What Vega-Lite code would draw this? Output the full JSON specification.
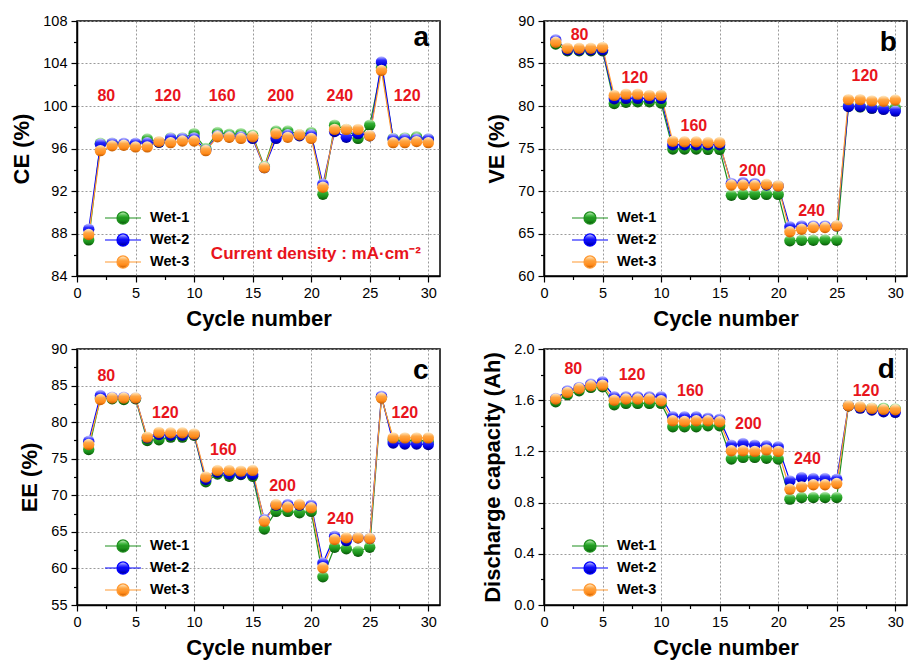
{
"$schema": "https://vega.github.io/schema/vega-lite/v6.json",
"background": "white",
"padding": {"left": 10, "right": 5, "top": 12, "bottom": 5},
"config": {
  "font": "Liberation Sans",
  "view": {"stroke": "black", "strokeWidth": 1.5},
  "axis": {"tickCount": 100, "domainColor": "black", "domainWidth": 1.5, "tickColor": "black", "tickWidth": 1.2, "labelFont": "Liberation Sans", "labelFontSize": 14.5, "labelColor": "black", "labelPadding": 4, "labelOverlap": false, "labelFlush": false, "titleFont": "Liberation Sans", "titleFontSize": 22, "titleFontWeight": "bold", "titleColor": "black", "titlePadding": 9, "gridColor": "#9a9a9a", "gridDash": [2, 2], "gridWidth": 1},
  "legend": {"orient": "none", "legendX": 36, "legendY": 187, "title": null, "padding": 0, "labelFont": "Liberation Sans", "labelFontSize": 14.5, "labelFontWeight": "bold", "labelColor": "black", "labelOffset": 17, "rowPadding": 3, "symbolType": "M-2,0H2M-0.67,0A0.67,0.67,0,1,1,0.67,0A0.67,0.67,0,1,1,-0.67,0Z", "symbolSize": 324, "symbolStrokeWidth": 1.2}
},
"datasets": {
"main": [
{"cycle":1,"series":"Wet-1","CE":87.4,"VE":87.3,"EE":76.25,"DC":1.588},
{"cycle":2,"series":"Wet-1","CE":96.5,"VE":86.5,"EE":83.3,"DC":1.643},
{"cycle":3,"series":"Wet-1","CE":96.5,"VE":86.5,"EE":83.2,"DC":1.674},
{"cycle":4,"series":"Wet-1","CE":96.4,"VE":86.5,"EE":83.1,"DC":1.70},
{"cycle":5,"series":"Wet-1","CE":96.45,"VE":86.5,"EE":83.2,"DC":1.705},
{"cycle":6,"series":"Wet-1","CE":96.9,"VE":80.3,"EE":77.5,"DC":1.565},
{"cycle":7,"series":"Wet-1","CE":96.6,"VE":80.45,"EE":77.6,"DC":1.575},
{"cycle":8,"series":"Wet-1","CE":97.0,"VE":80.5,"EE":77.95,"DC":1.575},
{"cycle":9,"series":"Wet-1","CE":97.0,"VE":80.5,"EE":77.95,"DC":1.575},
{"cycle":10,"series":"Wet-1","CE":97.4,"VE":80.35,"EE":78.2,"DC":1.575},
{"cycle":11,"series":"Wet-1","CE":96.0,"VE":74.95,"EE":71.85,"DC":1.392},
{"cycle":12,"series":"Wet-1","CE":97.5,"VE":74.95,"EE":72.9,"DC":1.392},
{"cycle":13,"series":"Wet-1","CE":97.35,"VE":74.95,"EE":72.6,"DC":1.392},
{"cycle":14,"series":"Wet-1","CE":97.4,"VE":74.9,"EE":72.85,"DC":1.40},
{"cycle":15,"series":"Wet-1","CE":97.25,"VE":74.9,"EE":72.6,"DC":1.40},
{"cycle":16,"series":"Wet-1","CE":94.3,"VE":69.5,"EE":65.4,"DC":1.14},
{"cycle":17,"series":"Wet-1","CE":97.65,"VE":69.6,"EE":67.8,"DC":1.153},
{"cycle":18,"series":"Wet-1","CE":97.65,"VE":69.6,"EE":67.8,"DC":1.153},
{"cycle":19,"series":"Wet-1","CE":97.3,"VE":69.6,"EE":67.6,"DC":1.147},
{"cycle":20,"series":"Wet-1","CE":97.5,"VE":69.6,"EE":67.8,"DC":1.14},
{"cycle":21,"series":"Wet-1","CE":91.7,"VE":64.15,"EE":58.85,"DC":0.827},
{"cycle":22,"series":"Wet-1","CE":98.2,"VE":64.2,"EE":62.9,"DC":0.84},
{"cycle":23,"series":"Wet-1","CE":97.8,"VE":64.2,"EE":62.7,"DC":0.84},
{"cycle":24,"series":"Wet-1","CE":96.95,"VE":64.25,"EE":62.35,"DC":0.84},
{"cycle":25,"series":"Wet-1","CE":98.2,"VE":64.2,"EE":62.9,"DC":0.84},
{"cycle":26,"series":"Wet-1","CE":103.6,"VE":80.0,"EE":83.4,"DC":1.557},
{"cycle":27,"series":"Wet-1","CE":96.95,"VE":79.9,"EE":77.6,"DC":1.544},
{"cycle":28,"series":"Wet-1","CE":97.0,"VE":79.75,"EE":77.4,"DC":1.538},
{"cycle":29,"series":"Wet-1","CE":97.1,"VE":79.75,"EE":77.6,"DC":1.538},
{"cycle":30,"series":"Wet-1","CE":96.9,"VE":79.75,"EE":77.3,"DC":1.531},
{"cycle":1,"series":"Wet-2","CE":88.4,"VE":87.8,"EE":77.4,"DC":1.614},
{"cycle":2,"series":"Wet-2","CE":96.4,"VE":86.6,"EE":83.65,"DC":1.674},
{"cycle":3,"series":"Wet-2","CE":96.5,"VE":86.6,"EE":83.4,"DC":1.70},
{"cycle":4,"series":"Wet-2","CE":96.5,"VE":86.6,"EE":83.4,"DC":1.726},
{"cycle":5,"series":"Wet-2","CE":96.5,"VE":86.6,"EE":83.3,"DC":1.744},
{"cycle":6,"series":"Wet-2","CE":96.55,"VE":80.85,"EE":77.85,"DC":1.627},
{"cycle":7,"series":"Wet-2","CE":96.6,"VE":80.9,"EE":78.3,"DC":1.627},
{"cycle":8,"series":"Wet-2","CE":96.95,"VE":80.9,"EE":78.2,"DC":1.627},
{"cycle":9,"series":"Wet-2","CE":96.95,"VE":80.9,"EE":78.2,"DC":1.627},
{"cycle":10,"series":"Wet-2","CE":97.0,"VE":80.9,"EE":78.3,"DC":1.627},
{"cycle":11,"series":"Wet-2","CE":95.85,"VE":75.45,"EE":72.15,"DC":1.471},
{"cycle":12,"series":"Wet-2","CE":97.2,"VE":75.45,"EE":73.15,"DC":1.471},
{"cycle":13,"series":"Wet-2","CE":97.1,"VE":75.45,"EE":72.9,"DC":1.471},
{"cycle":14,"series":"Wet-2","CE":97.1,"VE":75.45,"EE":72.9,"DC":1.46},
{"cycle":15,"series":"Wet-2","CE":96.95,"VE":75.45,"EE":72.85,"DC":1.452},
{"cycle":16,"series":"Wet-2","CE":94.2,"VE":70.9,"EE":66.7,"DC":1.249},
{"cycle":17,"series":"Wet-2","CE":96.95,"VE":71.0,"EE":68.65,"DC":1.262},
{"cycle":18,"series":"Wet-2","CE":97.3,"VE":70.9,"EE":68.75,"DC":1.249},
{"cycle":19,"series":"Wet-2","CE":97.2,"VE":70.7,"EE":68.65,"DC":1.244},
{"cycle":20,"series":"Wet-2","CE":97.3,"VE":70.6,"EE":68.65,"DC":1.236},
{"cycle":21,"series":"Wet-2","CE":92.65,"VE":65.8,"EE":60.75,"DC":0.97},
{"cycle":22,"series":"Wet-2","CE":97.6,"VE":65.9,"EE":64.4,"DC":0.996},
{"cycle":23,"series":"Wet-2","CE":97.05,"VE":65.9,"EE":63.8,"DC":0.988},
{"cycle":24,"series":"Wet-2","CE":97.4,"VE":65.9,"EE":64.2,"DC":0.988},
{"cycle":25,"series":"Wet-2","CE":97.2,"VE":65.9,"EE":64.1,"DC":0.983},
{"cycle":26,"series":"Wet-2","CE":104.15,"VE":79.95,"EE":83.55,"DC":1.557},
{"cycle":27,"series":"Wet-2","CE":96.9,"VE":79.95,"EE":77.15,"DC":1.538},
{"cycle":28,"series":"Wet-2","CE":96.9,"VE":79.75,"EE":77.0,"DC":1.523},
{"cycle":29,"series":"Wet-2","CE":96.9,"VE":79.6,"EE":77.0,"DC":1.51},
{"cycle":30,"series":"Wet-2","CE":96.9,"VE":79.4,"EE":76.95,"DC":1.505},
{"cycle":1,"series":"Wet-3","CE":87.9,"VE":87.5,"EE":76.95,"DC":1.609},
{"cycle":2,"series":"Wet-3","CE":95.8,"VE":86.8,"EE":83.1,"DC":1.661},
{"cycle":3,"series":"Wet-3","CE":96.25,"VE":86.8,"EE":83.3,"DC":1.692},
{"cycle":4,"series":"Wet-3","CE":96.3,"VE":86.8,"EE":83.3,"DC":1.713},
{"cycle":5,"series":"Wet-3","CE":96.15,"VE":86.9,"EE":83.3,"DC":1.718},
{"cycle":6,"series":"Wet-3","CE":96.15,"VE":81.25,"EE":77.95,"DC":1.60},
{"cycle":7,"series":"Wet-3","CE":96.65,"VE":81.4,"EE":78.6,"DC":1.609},
{"cycle":8,"series":"Wet-3","CE":96.55,"VE":81.4,"EE":78.55,"DC":1.609},
{"cycle":9,"series":"Wet-3","CE":96.7,"VE":81.25,"EE":78.55,"DC":1.609},
{"cycle":10,"series":"Wet-3","CE":96.7,"VE":81.25,"EE":78.4,"DC":1.596},
{"cycle":11,"series":"Wet-3","CE":95.8,"VE":75.85,"EE":72.5,"DC":1.44},
{"cycle":12,"series":"Wet-3","CE":97.1,"VE":75.8,"EE":73.4,"DC":1.434},
{"cycle":13,"series":"Wet-3","CE":97.05,"VE":75.8,"EE":73.4,"DC":1.44},
{"cycle":14,"series":"Wet-3","CE":96.95,"VE":75.7,"EE":73.3,"DC":1.44},
{"cycle":15,"series":"Wet-3","CE":97.1,"VE":75.7,"EE":73.4,"DC":1.432},
{"cycle":16,"series":"Wet-3","CE":94.2,"VE":70.7,"EE":66.45,"DC":1.205},
{"cycle":17,"series":"Wet-3","CE":97.4,"VE":70.7,"EE":68.75,"DC":1.205},
{"cycle":18,"series":"Wet-3","CE":97.05,"VE":70.65,"EE":68.4,"DC":1.20},
{"cycle":19,"series":"Wet-3","CE":97.3,"VE":70.8,"EE":68.75,"DC":1.212},
{"cycle":20,"series":"Wet-3","CE":96.95,"VE":70.6,"EE":68.3,"DC":1.20},
{"cycle":21,"series":"Wet-3","CE":92.35,"VE":65.2,"EE":60.1,"DC":0.905},
{"cycle":22,"series":"Wet-3","CE":97.8,"VE":65.5,"EE":63.95,"DC":0.923},
{"cycle":23,"series":"Wet-3","CE":97.8,"VE":65.7,"EE":64.2,"DC":0.939},
{"cycle":24,"series":"Wet-3","CE":97.8,"VE":65.7,"EE":64.2,"DC":0.939},
{"cycle":25,"series":"Wet-3","CE":97.2,"VE":65.9,"EE":64.1,"DC":0.949},
{"cycle":26,"series":"Wet-3","CE":103.35,"VE":80.75,"EE":83.3,"DC":1.557},
{"cycle":27,"series":"Wet-3","CE":96.55,"VE":80.75,"EE":77.85,"DC":1.549},
{"cycle":28,"series":"Wet-3","CE":96.55,"VE":80.6,"EE":77.85,"DC":1.536},
{"cycle":29,"series":"Wet-3","CE":96.65,"VE":80.55,"EE":77.85,"DC":1.528},
{"cycle":30,"series":"Wet-3","CE":96.55,"VE":80.7,"EE":77.85,"DC":1.525}
]
},
"columns": 2,
"spacing": {"row": 73, "column": 104},
"bounds": "flush",
"resolve": {"scale": {"stroke": "independent"}, "legend": {"stroke": "independent"}},
"concat": [
{
  "width": 363, "height": 255,
  "data": {"name": "main"},
  "layer": [
    {"mark": {"type": "line", "strokeWidth": 1.2},
     "encoding": {
       "x": {"field": "cycle", "type": "quantitative", "scale": {"domain": [0, 31], "nice": false, "zero": false},
             "axis": {"title": "Cycle number", "format": "d", "values": [0,2.5,5,7.5,10,12.5,15,17.5,20,22.5,25,27.5,30], "labelExpr": "datum.value % 5 === 0 ? datum.label : ''", "tickSize": {"condition": {"test": "datum.value % 5 === 0", "value": 6}, "value": 3.5}, "gridOpacity": {"condition": {"test": "datum.value % 5 === 0", "value": 1}, "value": 0}}},
       "y": {"field": "CE", "type": "quantitative", "scale": {"domain": [84, 108], "nice": false, "zero": false},
             "axis": {"title": "CE (%)", "format": "d", "values": [84,86,88,90,92,94,96,98,100,102,104,106,108], "labelExpr": "datum.value % 4 === 0 ? datum.label : ''", "tickSize": {"condition": {"test": "datum.value % 4 === 0", "value": 6}, "value": 3.5}, "gridOpacity": {"condition": {"test": "datum.value % 4 === 0", "value": 1}, "value": 0}}},
       "stroke": {"field": "series", "type": "nominal", "scale": {"domain": ["Wet-1","Wet-2","Wet-3"], "range": ["#1f8f1f","#0000ff","#ff9933"]},
         "legend": {"encode": {"symbols": {"update": {"fill": {"signal": "datum.value === 'Wet-1' ? {gradient:'linear',x1:0,y1:0,x2:0,y2:1,stops:[{offset:0,color:'#c8f0c0'},{offset:0.35,color:'#34b034'},{offset:0.75,color:'#168a16'},{offset:1,color:'#0a500a'}]} : datum.value === 'Wet-2' ? {gradient:'linear',x1:0,y1:0,x2:0,y2:1,stops:[{offset:0,color:'#d0d0ff'},{offset:0.35,color:'#2a2aff'},{offset:0.75,color:'#0000dd'},{offset:1,color:'#000080'}]} : {gradient:'linear',x1:0,y1:0,x2:0,y2:1,stops:[{offset:0,color:'#fff0d0'},{offset:0.35,color:'#ffa644'},{offset:0.75,color:'#ff8a1a'},{offset:1,color:'#c05a00'}]}"}}}}}}
     }},
    {"transform": [{"filter": "datum.series === 'Wet-1'"}],
     "mark": {"type": "point", "filled": true, "size": 130, "opacity": 1, "strokeWidth": 0, "fill": {"gradient": "linear", "x1": 0, "y1": 0, "x2": 0, "y2": 1, "stops": [{"offset": 0, "color": "#c8f0c0"}, {"offset": 0.35, "color": "#34b034"}, {"offset": 0.75, "color": "#168a16"}, {"offset": 1, "color": "#0a500a"}]}},
     "encoding": {"x": {"field": "cycle", "type": "quantitative"}, "y": {"field": "CE", "type": "quantitative"}}},
    {"transform": [{"filter": "datum.series === 'Wet-2'"}],
     "mark": {"type": "point", "filled": true, "size": 130, "opacity": 1, "strokeWidth": 0, "fill": {"gradient": "linear", "x1": 0, "y1": 0, "x2": 0, "y2": 1, "stops": [{"offset": 0, "color": "#d0d0ff"}, {"offset": 0.35, "color": "#2a2aff"}, {"offset": 0.75, "color": "#0000dd"}, {"offset": 1, "color": "#000080"}]}},
     "encoding": {"x": {"field": "cycle", "type": "quantitative"}, "y": {"field": "CE", "type": "quantitative"}}},
    {"transform": [{"filter": "datum.series === 'Wet-3'"}],
     "mark": {"type": "point", "filled": true, "size": 130, "opacity": 1, "strokeWidth": 0, "fill": {"gradient": "linear", "x1": 0, "y1": 0, "x2": 0, "y2": 1, "stops": [{"offset": 0, "color": "#fff0d0"}, {"offset": 0.35, "color": "#ffa644"}, {"offset": 0.75, "color": "#ff8a1a"}, {"offset": 1, "color": "#c05a00"}]}},
     "encoding": {"x": {"field": "cycle", "type": "quantitative"}, "y": {"field": "CE", "type": "quantitative"}}},
    {"data": {"values": [{"cycle":2.5,"CE":100.9,"t":"80"},{"cycle":7.75,"CE":100.9,"t":"120"},{"cycle":12.4,"CE":100.9,"t":"160"},{"cycle":17.4,"CE":100.9,"t":"200"},{"cycle":22.45,"CE":100.9,"t":"240"},{"cycle":28.2,"CE":100.9,"t":"120"}]},
     "mark": {"type": "text", "color": "#e8141c", "fontSize": 16, "fontWeight": "bold"},
     "encoding": {"x": {"field": "cycle", "type": "quantitative"}, "y": {"field": "CE", "type": "quantitative"}, "text": {"field": "t"}}},
    {"data": {"values": [{"cycle":20.4,"CE":86.1,"t":"Current density : mA·cm⁻²"}]},
     "mark": {"type": "text", "color": "#e8141c", "fontSize": 17, "fontWeight": "bold"},
     "encoding": {"x": {"field": "cycle", "type": "quantitative"}, "y": {"field": "CE", "type": "quantitative"}, "text": {"field": "t"}}},
    {"data": {"values": [{"cycle":29.4,"CE":106.4,"t":"a"}]},
     "mark": {"type": "text", "color": "black", "fontSize": 28, "fontWeight": "bold"},
     "encoding": {"x": {"field": "cycle", "type": "quantitative"}, "y": {"field": "CE", "type": "quantitative"}, "text": {"field": "t"}}}
  ]
},
{
  "width": 363, "height": 255,
  "data": {"name": "main"},
  "layer": [
    {"mark": {"type": "line", "strokeWidth": 1.2},
     "encoding": {
       "x": {"field": "cycle", "type": "quantitative", "scale": {"domain": [0, 31], "nice": false, "zero": false},
             "axis": {"title": "Cycle number", "format": "d", "values": [0,2.5,5,7.5,10,12.5,15,17.5,20,22.5,25,27.5,30], "labelExpr": "datum.value % 5 === 0 ? datum.label : ''", "tickSize": {"condition": {"test": "datum.value % 5 === 0", "value": 6}, "value": 3.5}, "gridOpacity": {"condition": {"test": "datum.value % 5 === 0", "value": 1}, "value": 0}}},
       "y": {"field": "VE", "type": "quantitative", "scale": {"domain": [60, 90], "nice": false, "zero": false},
             "axis": {"title": "VE (%)", "format": "d", "values": [60,62.5,65,67.5,70,72.5,75,77.5,80,82.5,85,87.5,90], "labelExpr": "datum.value % 5 === 0 ? datum.label : ''", "tickSize": {"condition": {"test": "datum.value % 5 === 0", "value": 6}, "value": 3.5}, "gridOpacity": {"condition": {"test": "datum.value % 5 === 0", "value": 1}, "value": 0}}},
       "stroke": {"field": "series", "type": "nominal", "scale": {"domain": ["Wet-1","Wet-2","Wet-3"], "range": ["#1f8f1f","#0000ff","#ff9933"]},
         "legend": {"encode": {"symbols": {"update": {"fill": {"signal": "datum.value === 'Wet-1' ? {gradient:'linear',x1:0,y1:0,x2:0,y2:1,stops:[{offset:0,color:'#c8f0c0'},{offset:0.35,color:'#34b034'},{offset:0.75,color:'#168a16'},{offset:1,color:'#0a500a'}]} : datum.value === 'Wet-2' ? {gradient:'linear',x1:0,y1:0,x2:0,y2:1,stops:[{offset:0,color:'#d0d0ff'},{offset:0.35,color:'#2a2aff'},{offset:0.75,color:'#0000dd'},{offset:1,color:'#000080'}]} : {gradient:'linear',x1:0,y1:0,x2:0,y2:1,stops:[{offset:0,color:'#fff0d0'},{offset:0.35,color:'#ffa644'},{offset:0.75,color:'#ff8a1a'},{offset:1,color:'#c05a00'}]}"}}}}}}
     }},
    {"transform": [{"filter": "datum.series === 'Wet-1'"}],
     "mark": {"type": "point", "filled": true, "size": 130, "opacity": 1, "strokeWidth": 0, "fill": {"gradient": "linear", "x1": 0, "y1": 0, "x2": 0, "y2": 1, "stops": [{"offset": 0, "color": "#c8f0c0"}, {"offset": 0.35, "color": "#34b034"}, {"offset": 0.75, "color": "#168a16"}, {"offset": 1, "color": "#0a500a"}]}},
     "encoding": {"x": {"field": "cycle", "type": "quantitative"}, "y": {"field": "VE", "type": "quantitative"}}},
    {"transform": [{"filter": "datum.series === 'Wet-2'"}],
     "mark": {"type": "point", "filled": true, "size": 130, "opacity": 1, "strokeWidth": 0, "fill": {"gradient": "linear", "x1": 0, "y1": 0, "x2": 0, "y2": 1, "stops": [{"offset": 0, "color": "#d0d0ff"}, {"offset": 0.35, "color": "#2a2aff"}, {"offset": 0.75, "color": "#0000dd"}, {"offset": 1, "color": "#000080"}]}},
     "encoding": {"x": {"field": "cycle", "type": "quantitative"}, "y": {"field": "VE", "type": "quantitative"}}},
    {"transform": [{"filter": "datum.series === 'Wet-3'"}],
     "mark": {"type": "point", "filled": true, "size": 130, "opacity": 1, "strokeWidth": 0, "fill": {"gradient": "linear", "x1": 0, "y1": 0, "x2": 0, "y2": 1, "stops": [{"offset": 0, "color": "#fff0d0"}, {"offset": 0.35, "color": "#ffa644"}, {"offset": 0.75, "color": "#ff8a1a"}, {"offset": 1, "color": "#c05a00"}]}},
     "encoding": {"x": {"field": "cycle", "type": "quantitative"}, "y": {"field": "VE", "type": "quantitative"}}},
    {"data": {"values": [{"cycle":3.04,"VE":88.3,"t":"80"},{"cycle":7.75,"VE":83.3,"t":"120"},{"cycle":12.8,"VE":77.6,"t":"160"},{"cycle":17.8,"VE":72.4,"t":"200"},{"cycle":22.85,"VE":67.6,"t":"240"},{"cycle":27.4,"VE":83.5,"t":"120"}]},
     "mark": {"type": "text", "color": "#e8141c", "fontSize": 16, "fontWeight": "bold"},
     "encoding": {"x": {"field": "cycle", "type": "quantitative"}, "y": {"field": "VE", "type": "quantitative"}, "text": {"field": "t"}}},
    {"data": {"values": [{"cycle":29.4,"VE":87.4,"t":"b"}]},
     "mark": {"type": "text", "color": "black", "fontSize": 28, "fontWeight": "bold"},
     "encoding": {"x": {"field": "cycle", "type": "quantitative"}, "y": {"field": "VE", "type": "quantitative"}, "text": {"field": "t"}}}
  ]
},
{
  "width": 363, "height": 256,
  "data": {"name": "main"},
  "layer": [
    {"mark": {"type": "line", "strokeWidth": 1.2},
     "encoding": {
       "x": {"field": "cycle", "type": "quantitative", "scale": {"domain": [0, 31], "nice": false, "zero": false},
             "axis": {"title": "Cycle number", "format": "d", "values": [0,2.5,5,7.5,10,12.5,15,17.5,20,22.5,25,27.5,30], "labelExpr": "datum.value % 5 === 0 ? datum.label : ''", "tickSize": {"condition": {"test": "datum.value % 5 === 0", "value": 6}, "value": 3.5}, "gridOpacity": {"condition": {"test": "datum.value % 5 === 0", "value": 1}, "value": 0}}},
       "y": {"field": "EE", "type": "quantitative", "scale": {"domain": [55, 90], "nice": false, "zero": false},
             "axis": {"title": "EE (%)", "format": "d", "values": [55,57.5,60,62.5,65,67.5,70,72.5,75,77.5,80,82.5,85,87.5,90], "labelExpr": "datum.value % 5 === 0 ? datum.label : ''", "tickSize": {"condition": {"test": "datum.value % 5 === 0", "value": 6}, "value": 3.5}, "gridOpacity": {"condition": {"test": "datum.value % 5 === 0", "value": 1}, "value": 0}}},
       "stroke": {"field": "series", "type": "nominal", "scale": {"domain": ["Wet-1","Wet-2","Wet-3"], "range": ["#1f8f1f","#0000ff","#ff9933"]},
         "legend": {"encode": {"symbols": {"update": {"fill": {"signal": "datum.value === 'Wet-1' ? {gradient:'linear',x1:0,y1:0,x2:0,y2:1,stops:[{offset:0,color:'#c8f0c0'},{offset:0.35,color:'#34b034'},{offset:0.75,color:'#168a16'},{offset:1,color:'#0a500a'}]} : datum.value === 'Wet-2' ? {gradient:'linear',x1:0,y1:0,x2:0,y2:1,stops:[{offset:0,color:'#d0d0ff'},{offset:0.35,color:'#2a2aff'},{offset:0.75,color:'#0000dd'},{offset:1,color:'#000080'}]} : {gradient:'linear',x1:0,y1:0,x2:0,y2:1,stops:[{offset:0,color:'#fff0d0'},{offset:0.35,color:'#ffa644'},{offset:0.75,color:'#ff8a1a'},{offset:1,color:'#c05a00'}]}"}}}}}}
     }},
    {"transform": [{"filter": "datum.series === 'Wet-1'"}],
     "mark": {"type": "point", "filled": true, "size": 130, "opacity": 1, "strokeWidth": 0, "fill": {"gradient": "linear", "x1": 0, "y1": 0, "x2": 0, "y2": 1, "stops": [{"offset": 0, "color": "#c8f0c0"}, {"offset": 0.35, "color": "#34b034"}, {"offset": 0.75, "color": "#168a16"}, {"offset": 1, "color": "#0a500a"}]}},
     "encoding": {"x": {"field": "cycle", "type": "quantitative"}, "y": {"field": "EE", "type": "quantitative"}}},
    {"transform": [{"filter": "datum.series === 'Wet-2'"}],
     "mark": {"type": "point", "filled": true, "size": 130, "opacity": 1, "strokeWidth": 0, "fill": {"gradient": "linear", "x1": 0, "y1": 0, "x2": 0, "y2": 1, "stops": [{"offset": 0, "color": "#d0d0ff"}, {"offset": 0.35, "color": "#2a2aff"}, {"offset": 0.75, "color": "#0000dd"}, {"offset": 1, "color": "#000080"}]}},
     "encoding": {"x": {"field": "cycle", "type": "quantitative"}, "y": {"field": "EE", "type": "quantitative"}}},
    {"transform": [{"filter": "datum.series === 'Wet-3'"}],
     "mark": {"type": "point", "filled": true, "size": 130, "opacity": 1, "strokeWidth": 0, "fill": {"gradient": "linear", "x1": 0, "y1": 0, "x2": 0, "y2": 1, "stops": [{"offset": 0, "color": "#fff0d0"}, {"offset": 0.35, "color": "#ffa644"}, {"offset": 0.75, "color": "#ff8a1a"}, {"offset": 1, "color": "#c05a00"}]}},
     "encoding": {"x": {"field": "cycle", "type": "quantitative"}, "y": {"field": "EE", "type": "quantitative"}}},
    {"data": {"values": [{"cycle":2.5,"EE":86.3,"t":"80"},{"cycle":7.55,"EE":81.3,"t":"120"},{"cycle":12.5,"EE":76.25,"t":"160"},{"cycle":17.55,"EE":71.25,"t":"200"},{"cycle":22.5,"EE":66.8,"t":"240"},{"cycle":28.0,"EE":81.3,"t":"120"}]},
     "mark": {"type": "text", "color": "#e8141c", "fontSize": 16, "fontWeight": "bold"},
     "encoding": {"x": {"field": "cycle", "type": "quantitative"}, "y": {"field": "EE", "type": "quantitative"}, "text": {"field": "t"}}},
    {"data": {"values": [{"cycle":29.35,"EE":86.96,"t":"c"}]},
     "mark": {"type": "text", "color": "black", "fontSize": 28, "fontWeight": "bold"},
     "encoding": {"x": {"field": "cycle", "type": "quantitative"}, "y": {"field": "EE", "type": "quantitative"}, "text": {"field": "t"}}}
  ]
},
{
  "width": 363, "height": 256,
  "data": {"name": "main"},
  "layer": [
    {"mark": {"type": "line", "strokeWidth": 1.2},
     "encoding": {
       "x": {"field": "cycle", "type": "quantitative", "scale": {"domain": [0, 31], "nice": false, "zero": false},
             "axis": {"title": "Cycle number", "format": "d", "values": [0,2.5,5,7.5,10,12.5,15,17.5,20,22.5,25,27.5,30], "labelExpr": "datum.value % 5 === 0 ? datum.label : ''", "tickSize": {"condition": {"test": "datum.value % 5 === 0", "value": 6}, "value": 3.5}, "gridOpacity": {"condition": {"test": "datum.value % 5 === 0", "value": 1}, "value": 0}}},
       "y": {"field": "DC", "type": "quantitative", "scale": {"domain": [0, 2], "nice": false, "zero": false},
             "axis": {"title": "Discharge capacity (Ah)", "format": ".1f", "values": [0,0.2,0.4,0.6,0.8,1.0,1.2,1.4,1.6,1.8,2.0], "labelExpr": "round(datum.value*10) % 4 === 0 ? datum.label : ''", "tickSize": {"condition": {"test": "round(datum.value*10) % 4 === 0", "value": 6}, "value": 3.5}, "gridOpacity": {"condition": {"test": "round(datum.value*10) % 4 === 0", "value": 1}, "value": 0}}},
       "stroke": {"field": "series", "type": "nominal", "scale": {"domain": ["Wet-1","Wet-2","Wet-3"], "range": ["#1f8f1f","#0000ff","#ff9933"]},
         "legend": {"encode": {"symbols": {"update": {"fill": {"signal": "datum.value === 'Wet-1' ? {gradient:'linear',x1:0,y1:0,x2:0,y2:1,stops:[{offset:0,color:'#c8f0c0'},{offset:0.35,color:'#34b034'},{offset:0.75,color:'#168a16'},{offset:1,color:'#0a500a'}]} : datum.value === 'Wet-2' ? {gradient:'linear',x1:0,y1:0,x2:0,y2:1,stops:[{offset:0,color:'#d0d0ff'},{offset:0.35,color:'#2a2aff'},{offset:0.75,color:'#0000dd'},{offset:1,color:'#000080'}]} : {gradient:'linear',x1:0,y1:0,x2:0,y2:1,stops:[{offset:0,color:'#fff0d0'},{offset:0.35,color:'#ffa644'},{offset:0.75,color:'#ff8a1a'},{offset:1,color:'#c05a00'}]}"}}}}}}
     }},
    {"transform": [{"filter": "datum.series === 'Wet-1'"}],
     "mark": {"type": "point", "filled": true, "size": 130, "opacity": 1, "strokeWidth": 0, "fill": {"gradient": "linear", "x1": 0, "y1": 0, "x2": 0, "y2": 1, "stops": [{"offset": 0, "color": "#c8f0c0"}, {"offset": 0.35, "color": "#34b034"}, {"offset": 0.75, "color": "#168a16"}, {"offset": 1, "color": "#0a500a"}]}},
     "encoding": {"x": {"field": "cycle", "type": "quantitative"}, "y": {"field": "DC", "type": "quantitative"}}},
    {"transform": [{"filter": "datum.series === 'Wet-2'"}],
     "mark": {"type": "point", "filled": true, "size": 130, "opacity": 1, "strokeWidth": 0, "fill": {"gradient": "linear", "x1": 0, "y1": 0, "x2": 0, "y2": 1, "stops": [{"offset": 0, "color": "#d0d0ff"}, {"offset": 0.35, "color": "#2a2aff"}, {"offset": 0.75, "color": "#0000dd"}, {"offset": 1, "color": "#000080"}]}},
     "encoding": {"x": {"field": "cycle", "type": "quantitative"}, "y": {"field": "DC", "type": "quantitative"}}},
    {"transform": [{"filter": "datum.series === 'Wet-3'"}],
     "mark": {"type": "point", "filled": true, "size": 130, "opacity": 1, "strokeWidth": 0, "fill": {"gradient": "linear", "x1": 0, "y1": 0, "x2": 0, "y2": 1, "stops": [{"offset": 0, "color": "#fff0d0"}, {"offset": 0.35, "color": "#ffa644"}, {"offset": 0.75, "color": "#ff8a1a"}, {"offset": 1, "color": "#c05a00"}]}},
     "encoding": {"x": {"field": "cycle", "type": "quantitative"}, "y": {"field": "DC", "type": "quantitative"}}},
    {"data": {"values": [{"cycle":2.5,"DC":1.844,"t":"80"},{"cycle":7.52,"DC":1.80,"t":"120"},{"cycle":12.5,"DC":1.674,"t":"160"},{"cycle":17.45,"DC":1.413,"t":"200"},{"cycle":22.5,"DC":1.144,"t":"240"},{"cycle":27.5,"DC":1.674,"t":"120"}]},
     "mark": {"type": "text", "color": "#e8141c", "fontSize": 16, "fontWeight": "bold"},
     "encoding": {"x": {"field": "cycle", "type": "quantitative"}, "y": {"field": "DC", "type": "quantitative"}, "text": {"field": "t"}}},
    {"data": {"values": [{"cycle":29.24,"DC":1.836,"t":"d"}]},
     "mark": {"type": "text", "color": "black", "fontSize": 28, "fontWeight": "bold"},
     "encoding": {"x": {"field": "cycle", "type": "quantitative"}, "y": {"field": "DC", "type": "quantitative"}, "text": {"field": "t"}}}
  ]
}
]
}
